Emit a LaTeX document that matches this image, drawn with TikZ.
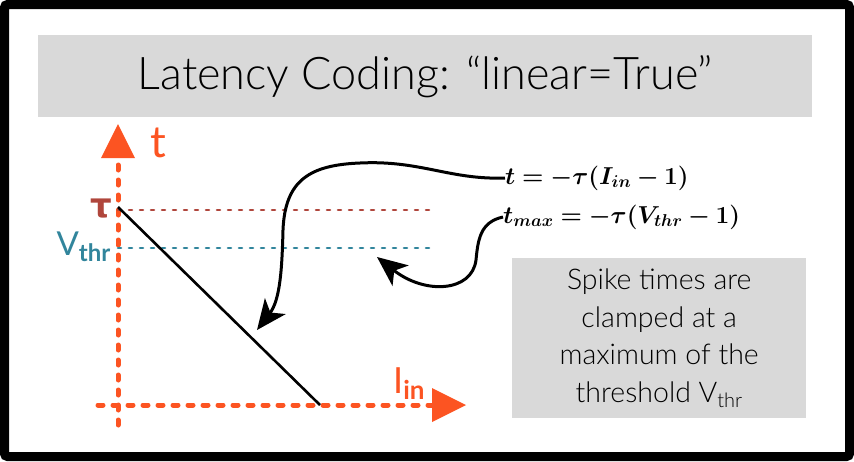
\RequirePackage{fix-cm}
\documentclass[tikz,border=0pt]{standalone}
\usepackage{amsmath,bm}
\usepackage{fontspec}
\setmainfont{Lato Light}
\newfontfamily\labelfont{Lato}
\newfontfamily\greekfont{DejaVu Sans}
\usepackage{tikz}
\usetikzlibrary{arrows.meta, positioning, calc}
\definecolor{axisorange}{RGB}{252,84,34}
\definecolor{taured}{RGB}{176,70,60}
\definecolor{thrteal}{RGB}{49,133,156}
\definecolor{boxgray}{RGB}{217,217,217}
\newcommand{\fsz}[1]{\fontsize{#1}{1.2\dimexpr#1\relax}\selectfont}

\begin{document}
\begin{tikzpicture}[x=1pt, y=-1pt,
    axis/.style={axisorange, line width=5pt, line cap=round, dash pattern=on 5pt off 10pt},
    guide/.style={line width=2.6pt, line cap=round, dash pattern=on 3pt off 8pt},
    pointer/.style={-{Stealth[length=30pt, width=26pt, inset=8pt]}, line width=3pt},
    grayblock/.style={fill=boxgray, inner sep=0pt}
]
% frame and title
\draw[line width=9pt, rounded corners=3pt, fill=white] (4.5,4.5) rectangle (849.5,456.5);
\node[grayblock, minimum width=774pt, minimum height=82pt, anchor=north west, font=\fsz{45pt}] (title) at (38,35)
    {Latency Coding: “linear=True”};

% axes
\coordinate (o) at (118,405);
\draw[axis] (118,425) -- (118,160);
\draw[axis] (98,405) -- (440,405);
\fill[axisorange] (118,124) coordinate (ttip) -- (135,158) -- (101,158) -- cycle;
\fill[axisorange] (466,405) coordinate (itip) -- (432,388) -- (432,422) -- cycle;
\node[text=axisorange, font=\labelfont\fsz{44pt}, anchor=base west, inner sep=0pt] (tlabel) at (150,157) {t};
\node[text=axisorange, font=\labelfont\fsz{36pt}, anchor=base west, inner sep=0pt] (inlabel) at (393,393)
    {I\textsubscript{\fsz{26pt}\bfseries in}};

% levels
\coordinate (tau) at (118,210);
\coordinate (vthr) at (118,248);
\draw[guide, taured] (tau) -- (430,210);
\draw[guide, thrteal] (vthr) -- (430,248);
\node[text=taured, font=\greekfont\bfseries\fsz{34pt}, anchor=base east, inner sep=0pt] (taulabel) at (112,217) {τ};
\node[text=thrteal, font=\labelfont\fsz{33pt}, anchor=base east, inner sep=0pt] (vlabel) at (111,255)
    {V\textsubscript{\fsz{24pt}\bfseries thr}};

% response line
\coordinate (hit) at (320,405);
\draw[line width=2.6pt] (118,207) -- (hit);

% equations
\node[anchor=west, inner sep=0pt, font=\fsz{24.5pt}] (eq1) at (505,178) {$\bm{t = -\tau(I_{in} - 1)}$};
\node[anchor=west, inner sep=0pt, font=\fsz{24.5pt}] (eq2) at (503,217) {$\bm{t_{max} = -\tau(V_{thr} - 1)}$};

\draw[pointer] (eq1.west) .. controls (450,180) and (420,160) .. (360,163)
    .. controls (310,165) and (285,180) .. (283,230)
    .. controls (282,270) and (280,300) .. (257,330);
\draw[pointer] (eq2.west) .. controls (480,222) and (478,240) .. (476,260)
    .. controls (472,292) and (425,295) .. (377,257);

% note
\node[grayblock, minimum width=294pt, minimum height=160pt, anchor=north west, align=center,
      font=\fontsize{28.5pt}{37.5pt}\selectfont] (note) at (512,258)
    {Spike times are\\ clamped at a\\ maximum of the\\ threshold V\textsubscript{thr}};
\end{tikzpicture}
\end{document}
